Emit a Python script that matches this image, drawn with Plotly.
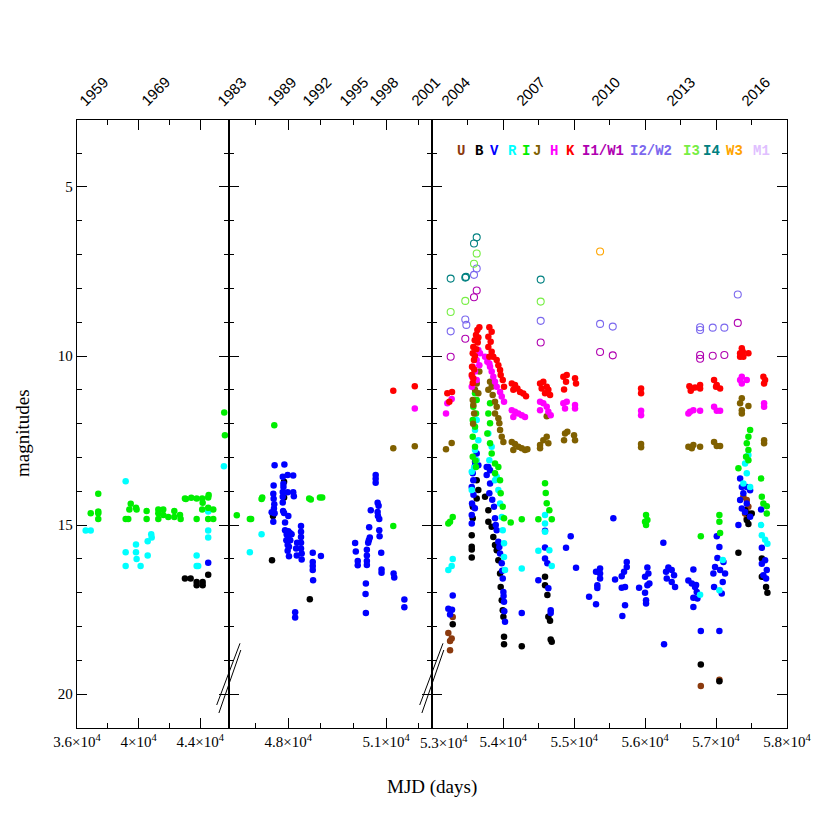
"""
Light curve of the transient: multi-band magnitudes vs MJD,
drawn as three broken x-axis panels sharing one magnitude axis.
"""

import plotly.graph_objects as go

# ---------------------------------------------------------------------------
# Data (MJD, magnitude) per band
# ---------------------------------------------------------------------------
u_mjd = [53288, 53226, 53273, 53250, 53250, 56785, 57047,
         57385, 57433, 57456, 57409, 57433]
u_mag = [17.72, 18.19, 18.35, 18.43, 18.7, 19.76, 19.57,
         14.16, 14.26, 14.46, 14.66, 14.8]

b_mjd = [43010, 43380, 43770, 43770, 44160, 44160, 44520,
         47500, 47530, 47870, 47870, 48660,
         53288,
         53626, 53649, 53626, 53570, 53570, 53556, 53556, 53556, 53556,
         53743, 53790, 53790, 53837, 53860, 53884, 53908, 53931, 53955, 53964,
         53979, 53993, 54002, 54011, 54011,
         54261,
         54589, 54589, 54622, 54636, 54660, 54669, 54684,
         56785, 57047, 57315, 57409, 57456, 57503, 57433, 57456,
         57645, 57645, 57705, 57724]
b_mag = [16.58, 16.58, 16.68, 16.78, 16.68, 16.78, 16.47,
         16.04, 14.73, 14.18, 13.72, 17.19,
         17.93,
         13.67, 13.96, 14.21, 14.46, 14.8, 15.3, 15.64, 15.72, 15.96,
         14.16, 14.56, 14.9, 15.05, 15.35, 15.59, 15.74, 16.04, 16.43, 16.83,
         17.22, 17.52, 17.71, 18.3, 18.52,
         18.58,
         16.53, 16.78, 17.07, 17.71, 17.83, 18.38, 18.45,
         19.12, 19.62, 15.82, 14.56, 14.66, 14.66, 14.85, 14.97,
         15.99, 16.53, 16.83, 17.0]

v_mjd = [44520,
         47580, 47880, 47830, 47980, 48150, 47550, 47850, 47850, 47830, 47980,
         48150, 48170, 47540, 47550, 47830, 47570, 47830, 47560, 47490, 47580,
         47840, 47870, 48000, 47540, 47900, 47900, 48000, 47950, 48050, 48000,
         48100, 47940, 48060, 47980, 48020, 47980, 48020, 48270, 48390, 48390,
         48390, 48390, 48240, 48390, 48260, 48410, 48410, 48750, 48750, 48750,
         48750, 48760, 49000, 48210, 48210,
         50050, 50070, 50130, 50130, 50410, 50410, 50410, 50410, 50380, 50370,
         50380, 50450, 50470, 50500, 50480, 50530, 50680, 50680, 50680, 50740,
         50770, 50740, 50750, 50790, 50790, 50800, 50850, 50860, 50860, 51230,
         51250, 51560, 51560,
         53288, 53226, 53278, 53250,
         53626, 53602, 53602, 53649, 53570, 53578, 53556, 53580, 53560, 53600,
         53556, 53556,
         53767, 53790, 53814, 53767, 53814, 53804, 53845, 53870, 53884, 53895,
         53908, 53931, 53945, 53955, 53979, 53985, 53993, 54002, 54005, 54011,
         54015, 54025,
         54261,
         54589, 54589, 54589, 54622, 54495, 54636, 54669, 54669,
         54951, 54885, 55026, 55552,
         55308, 55365, 55365, 55365, 55326, 55326, 55210, 55308, 55576,
         55670, 55703, 55741, 55670, 55717, 55741, 55717, 55679, 55915,
         56032, 56046, 55999, 56032, 56060, 55999, 56013, 56013,
         56257, 56267, 56295, 56328, 56305, 56375, 56408, 56375, 56422,
         56680, 56610, 56658, 56704, 56728, 56680, 56737, 56680, 56785, 56718,
         56962, 56986, 57019, 57047, 57057, 57104, 57127, 57094, 56972, 57080,
         57047, 57010,
         57339, 57363, 57385, 57433, 57480, 57339, 57433, 57363, 57409, 57315,
         57480,
         57635, 57645, 57645, 57691, 57715, 57667, 57705]
v_mag = [16.11,
         13.23, 13.21, 13.57, 13.52, 13.53, 13.83, 13.78, 13.87, 14.02, 14.03,
         14.03, 14.15, 14.07, 14.22, 14.16, 14.38, 14.33, 14.51, 14.62, 14.65,
         14.58, 14.64, 14.73, 14.9, 14.92, 15.15, 15.18, 15.28, 15.23, 15.34,
         15.27, 15.45, 15.45, 15.59, 15.64, 15.76, 15.92, 15.52, 15.03, 15.2,
         15.35, 15.52, 15.69, 15.69, 15.9, 15.84, 16.02, 15.82, 16.09, 16.21,
         16.33, 16.63, 15.91, 17.58, 17.73,
         15.53, 15.78, 16.06, 16.19, 15.73, 15.9, 16.06, 16.18, 16.73, 17.04,
         17.6, 15.52, 15.45, 15.37, 15.06, 14.56, 13.52, 13.63, 13.75, 14.34,
         14.43, 14.61, 14.73, 14.82, 15.15, 15.33, 15.82, 16.31, 16.41, 16.43,
         16.55, 17.2, 17.43,
         17.08, 17.47, 17.5, 17.64,
         12.88, 13.23, 13.13, 13.23, 13.47, 13.67, 13.87, 14.1, 14.36, 14.5,
         14.7, 14.95,
         13.28, 13.28, 13.38, 13.52, 13.77, 14.06, 14.25, 14.46, 14.8, 15.0,
         15.15, 15.49, 15.65, 15.84, 16.13, 16.35, 16.58, 16.98, 17.1, 17.27,
         17.55, 17.86,
         17.6,
         15.17, 15.66, 15.99, 16.13, 16.63, 16.87, 17.52, 17.6,
         15.33, 15.67, 16.26, 14.8,
         16.38, 16.28, 16.43, 16.58, 16.78, 16.86, 17.12, 17.34, 16.61,
         16.51, 16.38, 16.09, 16.85, 16.83, 16.24, 17.37, 17.69, 16.85,
         16.25, 16.43, 16.53, 16.78, 16.73, 17.0, 17.22, 17.32,
         15.52, 18.52, 16.38, 16.25, 16.58, 16.33, 16.48, 16.68, 16.83,
         16.31, 16.64, 16.73, 16.83, 16.98, 17.15, 17.17, 17.42, 18.13, 16.77,
         16.43, 16.24, 15.97, 15.65, 16.33, 16.09, 16.43, 16.68, 16.83, 17.02,
         18.13, 15.33,
         13.62, 13.87, 14.06, 13.87, 13.97, 14.26, 14.36, 14.51, 14.61, 15.0,
         14.75,
         14.54, 15.67, 16.14, 16.04, 16.33, 16.48, 16.58]

r_mjd = [36565, 36890, 39160, 39160, 39160, 39830, 39830, 39870, 40130, 40590,
         40590, 40820, 40850, 43770, 43770, 43870, 44520, 44520, 44520, 45540,
         47180, 46820,
         53226, 53273, 53288,
         53626, 53602, 53649, 53602, 53626, 53556, 53556, 53590,
         53790, 53837, 53804, 53908, 53884, 53931, 53955, 53979, 53993, 54011,
         54011, 54025,
         54261,
         54589, 54589, 54589, 54650, 54495, 54684,
         57095, 56775, 57047,
         57456, 57409, 57433, 57385, 57480,
         57635, 57645, 57691, 57724]
r_mag = [15.16, 15.16, 13.7, 15.8, 16.21, 15.57, 15.8, 16.0, 16.21, 15.9,
         15.48, 15.27, 15.37, 15.9, 16.21, 16.21, 15.16, 15.37, 14.6, 13.26,
         15.27, 15.8,
         16.33, 16.21, 16.0,
         11.89, 12.19, 12.49, 12.78, 13.08, 13.42, 13.96, 13.3,
         12.29, 12.68, 13.08, 13.57, 13.67, 13.96, 14.36, 14.76, 15.15, 15.54,
         15.94, 16.33,
         16.28,
         14.7, 14.95, 15.2, 15.74, 15.76, 16.21,
         16.03, 17.06, 16.93,
         12.93, 13.18, 13.47, 13.77, 13.87,
         15.0, 15.3, 15.43, 15.55]

i_mjd = [37380, 36890, 37380, 37380, 37380, 39160, 39330, 39490, 39400, 39830,
         39870, 40520, 40520, 41280, 41280, 41600, 41280, 41600, 41930, 42320,
         42320, 42690, 42730, 43010, 43070, 43420, 43770, 44130, 44160, 44520,
         44550, 44130, 44520, 44850, 43770, 44520, 44850, 45560, 45605,
         47570, 46420, 46820, 46860, 47180, 47200, 48640, 48690, 48970, 49040,
         51220,
         53226, 53250, 53288,
         53602, 53626, 53578, 53616, 53570, 53602, 53570, 53602, 53570, 53616,
         53610,
         53814, 53790, 53814, 53776, 53814, 53837, 53884, 53931, 53884, 53955,
         53964, 53993, 54011,
         54105, 54261,
         54589, 54599, 54613, 54650, 54684, 54495,
         56013, 56032, 56013, 55999,
         57315, 57480, 57456, 57433, 57456, 57423, 57456,
         57635, 57645, 57667, 57715, 57715,
         57047, 57047, 57057, 56785]
i_mag = [14.07, 14.65, 14.6, 14.65, 14.82, 14.82, 14.82, 14.37, 14.54, 14.49,
         14.54, 14.58, 14.82, 14.54, 14.82, 14.54, 14.65, 14.7, 14.76, 14.58,
         14.76, 14.7, 14.82, 14.21, 14.23, 14.19, 14.21, 14.21, 14.34, 14.18,
         14.11, 14.54, 14.49, 14.54, 14.82, 14.82, 14.82, 11.67, 12.34,
         12.05, 14.71, 14.82, 14.82, 14.23, 14.18, 14.21, 14.24, 14.18, 14.18,
         15.03,
         14.95, 14.9, 14.76,
         11.1, 11.3, 11.5, 11.7, 11.89, 12.09, 12.39, 12.68, 12.98, 13.28,
         13.1,
         11.4, 11.7, 11.99, 12.29, 12.58, 12.88, 13.18, 13.28, 13.47, 13.67,
         14.06, 14.46, 14.8,
         14.92, 14.83,
         13.76, 14.05, 14.35, 14.56, 14.83, 14.83,
         14.7, 14.85, 15.0, 14.9,
         13.32, 12.19, 12.39, 12.58, 12.78, 12.98, 13.08,
         13.62, 14.16, 14.36, 14.44, 14.66,
         14.7, 14.9, 15.23, 15.33]

j_mjd = [51220, 51880,
         53193, 53273,
         53663, 53626, 53602, 53649, 53570, 53578, 53590, 53575,
         53814, 53837, 53790, 53851, 53884, 53908, 53884, 53931, 53945, 53955,
         53979, 54002,
         54120, 54166, 54213, 54261, 54307, 54340, 54142,
         54519, 54565, 54613, 54636, 54519, 54613,
         54871, 54904, 54857, 54998, 55012,
         55943, 55943,
         56610, 56680, 56775, 56658,
         56972, 57010, 57057,
         57363, 57339, 57363, 57456, 57363,
         57677, 57677]
j_mag = [12.73, 12.67,
         12.76, 12.57,
         10.46, 10.81, 11.0, 11.1, 11.3, 11.45, 11.7, 12.0,
         10.76, 10.91, 11.0, 11.15, 11.35, 11.5, 11.7, 11.84, 11.99, 12.19,
         12.39, 12.54,
         12.54, 12.6, 12.68, 12.73, 12.78, 12.76, 12.78,
         12.63, 12.49, 12.39, 12.58, 12.73, 11.78,
         12.29, 12.24, 12.49, 12.34, 12.49,
         12.6, 12.7,
         12.68, 12.63, 12.68, 12.73,
         12.54, 12.66, 12.66,
         11.25, 11.4, 11.6, 11.48, 11.7,
         12.49, 12.58]

h_mjd = [51880,
         53212, 53273, 53193,
         53649, 53673, 53626, 53663, 53570, 53602, 53560, 53626, 53556,
         53743, 53776, 53804, 53814, 53837, 53860, 53884, 53908, 53955, 53979,
         54011,
         54120, 54166, 54213, 54261, 54307, 54142,
         54519, 54565, 54613, 54636, 54669, 54519,
         54847, 54895, 54871, 55012, 55012,
         55943, 55943,
         56633, 56680, 56775, 56610,
         56972, 57010, 57057,
         57363, 57339, 57433, 57363,
         57677, 57677]
h_mag = [11.55,
         11.4, 11.27, 11.7,
         9.82, 9.92, 10.12, 10.27, 10.32, 10.46, 10.61, 10.71, 10.91,
         10.02, 10.17, 10.22, 10.32, 10.46, 10.61, 10.76, 10.91, 11.06, 11.2,
         11.35,
         11.6, 11.65, 11.7, 11.75, 11.8, 11.8,
         11.35, 11.4, 11.5, 11.65, 11.75, 11.6,
         11.4, 11.35, 11.55, 11.45, 11.55,
         11.62, 11.75,
         11.65, 11.6, 11.62, 11.7,
         11.5, 11.62, 11.62,
         10.61, 10.71, 10.71, 10.81,
         11.4, 11.5]

k_mjd = [51220, 51880,
         53212, 53278, 53240,
         53663, 53635, 53616, 53650, 53598, 53640, 53578, 53620, 53570, 53600,
         53588, 53560, 53590, 53556, 53578, 53570,
         53804, 53837, 53790, 53823, 53790, 53837, 53860, 53804, 53908, 53931,
         53955, 53964, 53993, 54011,
         54120, 54166, 54199, 54237, 54283, 54321, 54142,
         54519, 54565, 54613, 54636, 54589, 54660, 54542,
         54847, 54895, 54885, 55012, 55026, 54857,
         55943, 55943,
         56624, 56658, 56704, 56775, 56775, 56643,
         56972, 57010, 57057, 57000,
         57363, 57339, 57385, 57456, 57339, 57377,
         57667, 57691, 57677]
k_mag = [11.03, 10.89,
         11.1, 11.06, 11.35,
         9.15, 9.23, 9.38, 9.45, 9.53, 9.6, 9.73, 9.8, 9.92, 10.0,
         10.12, 10.32, 10.4, 10.56, 10.66, 10.8,
         9.15, 9.28, 9.43, 9.58, 9.73, 9.87, 10.02, 10.02, 10.12, 10.27,
         10.41, 10.56, 10.71, 10.91,
         10.81, 10.86, 10.96, 11.06, 11.11, 11.19, 11.0,
         10.81, 10.76, 10.91, 11.0, 11.1, 11.15, 10.96,
         10.61, 10.56, 10.76, 10.66, 10.81, 10.99,
         10.96, 11.1,
         10.89, 10.96, 10.93, 10.86, 10.96, 11.03,
         10.71, 10.86, 10.96, 10.91,
         9.77, 9.92, 10.02, 9.92, 10.02, 9.87,
         10.61, 10.71, 10.81]

# mid-infrared (open symbols)
w1_mjd = [53626, 53588, 53465, 53259, 54528, 55365, 55544, 56775, 56775,
          56953, 57117, 57306]
w1_mag = [8.06, 8.26, 9.49, 10.02, 9.6, 9.88, 9.98, 9.97, 10.08,
          9.99, 9.97, 9.02]
w2_mjd = [53626, 53588, 53465, 53480, 53259, 54528, 55365, 55544, 56775,
          56775, 56953, 57117, 57306]
w2_mag = [7.41, 7.6, 8.92, 9.08, 9.27, 8.96, 9.05, 9.13, 9.15,
          9.23, 9.16, 9.16, 8.18]
i3_mjd = [53626, 53588, 53465, 53259, 54528]
i3_mag = [6.97, 7.27, 8.37, 8.7, 8.39]
i4_mjd = [53626, 53588, 53259, 53465, 53475, 54528]
i4_mag = [6.49, 6.67, 7.71, 7.68, 7.66, 7.74]
w3_mjd = [55365]
w3_mag = [6.91]

# band name, colour, filled?, data
bands = [
    ("U", "#8b3a0e", True, u_mjd, u_mag),
    ("B", "#000000", True, b_mjd, b_mag),
    ("V", "#0000ff", True, v_mjd, v_mag),
    ("R", "#00ffff", True, r_mjd, r_mag),
    ("I", "#00ee00", True, i_mjd, i_mag),
    ("J", "#806000", True, j_mjd, j_mag),
    ("H", "#ff00ff", True, h_mjd, h_mag),
    ("K", "#ff0000", True, k_mjd, k_mag),
    ("I1/W1", "#b000b0", False, w1_mjd, w1_mag),
    ("I2/W2", "#7b68ee", False, w2_mjd, w2_mag),
    ("I3", "#77ee44", False, i3_mjd, i3_mag),
    ("I4", "#008080", False, i4_mjd, i4_mag),
    ("W3", "#ffa500", False, w3_mjd, w3_mag),
    ("M1", "#e0c0ff", False, [], []),
]

# year labels on the top axis (label, MJD position)
year_labels = ["1959", "1969", "1983", "1989", "1992", "1995", "1998",
               "2001", "2004", "2007", "2010", "2013", "2016"]
year_mjd = [36195, 40199, 45170, 47377, 48451, 49586, 50506,
            51785, 53133, 54190, 55248, 56305, 57363]

# panel x ranges (broken axis); the 5.3x10^4 label is drawn separately,
# nudged right so it clears the 5.1x10^4 label of the middle panel
panel_ranges = [(36000, 45890), (46190, 52417), (53000, 58000)]
panel_ticks = [[36000, 40000, 44000], [48000, 51000],
               [53000, 54000, 55000, 56000, 57000, 58000]]
panel_ticktext = [["3.6×10<sup>4</sup>", "4×10<sup>4</sup>", "4.4×10<sup>4</sup>"],
                  ["4.8×10<sup>4</sup>", "5.1×10<sup>4</sup>"],
                  ["", "5.4×10<sup>4</sup>", "5.5×10<sup>4</sup>",
                   "5.6×10<sup>4</sup>", "5.7×10<sup>4</sup>", "5.8×10<sup>4</sup>"]]
first_label = "5.3×10<sup>4</sup>"
panel_minor = [2000, 1000, 500]

# ---------------------------------------------------------------------------
# Geometry: plot frame in screenshot pixels (page has an 8 px body margin)
# ---------------------------------------------------------------------------
W = H = 830
OFF = 8
X0, X1, Y0, Y1 = 77, 787, 120, 728
PW, PH = X1 - X0, Y1 - Y0
margin = dict(l=X0 - OFF, t=Y0 - OFF, r=W - (X1 - OFF), b=H - (Y1 - OFF))
edges_px = [X0, 229.3, 432.3, X1]
domains = [((edges_px[i] - X0) / PW, (edges_px[i + 1] - X0) / PW) for i in range(3)]


def px(x, y):
    """screenshot pixel -> paper fraction"""
    return (x - X0) / PW, (Y1 - y) / PH


def panel_of(m):
    for k, (lo, hi) in enumerate(panel_ranges):
        if lo <= m <= hi:
            return k
    return None


SERIF = "Liberation Serif"
fig = go.Figure()

for name, color, filled, mjd, mag in bands:
    for k in range(3):
        xs = [m for m, g in zip(mjd, mag) if panel_of(m) == k]
        ys = [g for m, g in zip(mjd, mag) if panel_of(m) == k]
        if not xs:
            continue
        ax = "" if k == 0 else str(k + 1)
        if filled:
            marker = dict(color=color, size=6.5, line=dict(width=0))
        else:
            marker = dict(color=color, size=7, symbol="circle-open",
                          line=dict(width=1.1, color=color))
        fig.add_trace(go.Scatter(
            x=xs, y=ys, mode="markers", name=name, marker=marker,
            xaxis="x" + ax, yaxis="y" + ax, showlegend=False,
            hovertemplate=f"{name}<br>MJD %{{x}}<br>%{{y}} mag<extra></extra>",
        ))

axis_common = dict(
    showline=True, linecolor="black", linewidth=1.3, mirror="ticks",
    ticks="inside", ticklen=10, tickwidth=1.1, tickcolor="black",
    showgrid=False, zeroline=False,
    tickfont=dict(family=SERIF, size=15, color="black"),
)

layout = dict(
    width=W, height=H, margin=margin,
    plot_bgcolor="white", paper_bgcolor="white",
    showlegend=False,
)

for k in range(3):
    ax = "" if k == 0 else str(k + 1)
    layout["xaxis" + ax] = dict(
        axis_common, domain=list(domains[k]), range=list(panel_ranges[k]),
        tickmode="array", tickvals=panel_ticks[k], ticktext=panel_ticktext[k],
        minor=dict(dtick=panel_minor[k], ticklen=5, ticks="inside",
                   tickcolor="black", tickwidth=1.1),
        anchor="y" + ax,
    )
    ydict = dict(
        axis_common, domain=[0, 1], range=[21.0, 3.02],
        tickmode="array", tickvals=[5, 10, 15, 20],
        minor=dict(dtick=1, ticklen=5, ticks="inside",
                   tickcolor="black", tickwidth=1.1),
        anchor="x" + ax,
    )
    if k > 0:
        ydict["matches"] = "y"
        ydict["showticklabels"] = False
    layout["yaxis" + ax] = ydict

fig.update_layout(**layout)

# first tick label of the right panel, shifted clear of its neighbour
fig.add_annotation(text=first_label, xref="x3", yref="paper",
                   x=panel_ticks[2][0], y=px(0, 742)[1], xshift=12,
                   xanchor="center", yanchor="middle", showarrow=False,
                   font=dict(family=SERIF, size=15, color="black"))

# axis titles
fig.add_annotation(text="MJD (days)", xref="paper", yref="paper",
                   x=0.5, y=px(0, 787)[1], xanchor="center", yanchor="middle",
                   showarrow=False,
                   font=dict(family=SERIF, size=19, color="black"))
fig.add_annotation(text="magnitudes", xref="paper", yref="paper",
                   x=px(22, 0)[0], y=px(0, 433)[1], xanchor="center",
                   yanchor="middle", textangle=-90, showarrow=False,
                   font=dict(family=SERIF, size=19, color="black"))

# year labels on top
for lab, m in zip(year_labels, year_mjd):
    k = panel_of(m)
    ax = "x" if k == 0 else "x" + str(k + 1)
    fig.add_annotation(text=lab, xref=ax, yref="paper", x=m, y=1 + 11 / PH,
                       xanchor="left", yanchor="bottom", textangle=-45,
                       xshift=-7, yshift=-3, showarrow=False,
                       font=dict(family="Liberation Sans", size=15, color="black"))

# band legend across the top of the last panel
legend_x = [460.7, 479, 494.3, 512.3, 526.3, 537, 554.3, 570,
            603, 651.3, 691.7, 711, 734.3, 761.7]
for (name, color, *_), lx in zip(bands, legend_x):
    ax_, ay_ = px(lx, 150.5)
    fig.add_annotation(text=f"<b>{name}</b>", xref="paper", yref="paper",
                       x=ax_, y=ay_, xanchor="center", yanchor="middle",
                       showarrow=False,
                       font=dict(family="Liberation Mono", size=14, color=color))

# axis break marks (double slashes) at the panel joins
for bx in edges_px[1:3]:
    for (x0, y0, x1, y1) in [(bx - 12.6, 705, bx + 10.7, 643.3),
                             (bx - 10.4, 713, bx + 11.5, 650)]:
        a0 = px(x0, y0)
        a1 = px(x1, y1)
        fig.add_shape(type="line", xref="paper", yref="paper",
                      x0=a0[0], y0=a0[1], x1=a1[0], y1=a1[1],
                      line=dict(color="black", width=1))

fig.write_html("out.html")
